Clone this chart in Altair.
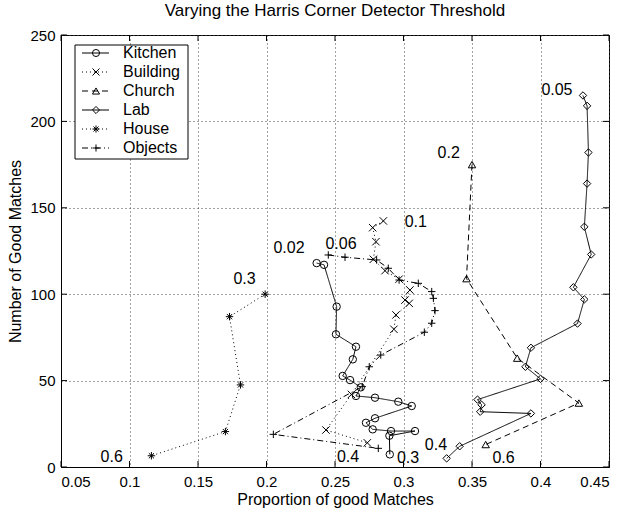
import altair as alt
import pandas as pd

FONT = "Liberation Sans"

series_names = ["Kitchen", "Building", "Church", "Lab", "House", "Objects"]

kitchen_x = [0.2366, 0.242, 0.2512, 0.2507, 0.2653, 0.263, 0.2556, 0.261, 0.2688, 0.2653,
             0.2792, 0.2962, 0.306, 0.2792, 0.2726, 0.2775, 0.2909, 0.3084, 0.2897, 0.290]
kitchen_y = [118, 117, 92.8, 76.8, 69.6, 62.3, 52.7, 50.3, 46.1, 41.1,
             40.1, 37.8, 35.3, 28.2, 25.6, 21.8, 20.8, 20.8, 18.1, 7.3]

building_x = [0.2853, 0.2775, 0.2799, 0.278, 0.2865, 0.2968, 0.3047, 0.3011, 0.3042, 0.2945,
              0.293, 0.262, 0.2434, 0.2736]
building_y = [142.4, 138.5, 130.4, 120.2, 113.6, 108.7, 102.4, 96.6, 94.7, 88,
              79.7, 42, 21.4, 14]

church_x = [0.350, 0.346, 0.383, 0.428, 0.360]
church_y = [175, 109, 63, 37, 13]

lab_x = [0.431, 0.434, 0.435, 0.434, 0.432, 0.437, 0.424, 0.432, 0.427, 0.393,
         0.389, 0.400, 0.354, 0.357, 0.356, 0.393, 0.341, 0.3315]
lab_y = [215, 209, 182, 164, 139, 123, 104, 97, 83, 69,
         58, 51, 39, 36, 32, 31, 12, 5]

house_x = [0.199, 0.173, 0.181, 0.170, 0.116]
house_y = [100, 87, 47.5, 20.5, 6.5]

objects_x = [0.2451, 0.2573, 0.2804, 0.2889, 0.2968, 0.3108, 0.3206, 0.3218, 0.323, 0.3206,
             0.3152, 0.2834, 0.275, 0.2699, 0.205, 0.2816]
objects_y = [122.7, 121.4, 119.8, 115, 108.2, 106.3, 101.5, 97.6, 90.5, 83.2,
             78, 64.8, 58, 46.5, 18.9, 10.8]

# threshold annotations
note_text = ["0.05", "0.2", "0.1", "0.02", "0.06", "0.3", "0.6", "0.4", "0.3", "0.4", "0.6"]
note_x = [0.412, 0.333, 0.309, 0.2164, 0.2544, 0.184, 0.087, 0.2595, 0.3033, 0.3237, 0.373]
note_y = [218, 182, 141.5, 127, 129, 109, 6, 5.8, 5, 13, 5]

x_ticks = [0.05, 0.1, 0.15, 0.2, 0.25, 0.3, 0.35, 0.4, 0.45]
y_ticks = [0, 50, 100, 150, 200, 250]

series_xy = {
    "Kitchen": (kitchen_x, kitchen_y),
    "Building": (building_x, building_y),
    "Church": (church_x, church_y),
    "Lab": (lab_x, lab_y),
    "House": (house_x, house_y),
    "Objects": (objects_x, objects_y),
}

rows = []
for name, (xs, ys) in series_xy.items():
    for i, (xv, yv) in enumerate(zip(xs, ys)):
        rows.append({"series": name, "x": xv, "y": yv, "idx": i})
df = pd.DataFrame(rows)

notes = pd.DataFrame({"x": note_x, "y": note_y, "label": note_text})
xt = pd.DataFrame({"x": x_ticks})
yt = pd.DataFrame({"y": y_ticks})
legend_df = pd.DataFrame({"series": series_names, "row": list(range(len(series_names)))})

W, H = 548, 432

shape_scale = alt.Scale(
    domain=series_names,
    range=[
        "circle",
        "M-1,-1L1,1M-1,1L1,-1",
        "triangle-up",
        "diamond",
        "M-1,0L1,0M0,-1L0,1M-0.7,-0.7L0.7,0.7M-0.7,0.7L0.7,-0.7",
        "M-1,0L1,0M0,-1L0,1",
    ],
)
dash_scale = alt.Scale(
    domain=series_names,
    range=[[1, 0], [1, 3], [6, 4], [1, 0], [1, 3], [6, 3, 1, 3]],
)

x_enc = alt.X(
    "x:Q",
    scale=alt.Scale(domain=[0.05, 0.45], nice=False, zero=False),
    axis=alt.Axis(values=x_ticks, format="~g", title="Proportion of good Matches",
                  ticks=False, labelPadding=7, titlePadding=2),
)
y_enc = alt.Y(
    "y:Q",
    scale=alt.Scale(domain=[0, 250], nice=False),
    axis=alt.Axis(values=y_ticks, title="Number of Good Matches",
                  ticks=False, labelPadding=6, titlePadding=6),
)

lines = alt.Chart(df).mark_line(color="black", strokeWidth=1).encode(
    x=x_enc,
    y=y_enc,
    detail="series:N",
    strokeDash=alt.StrokeDash("series:N", scale=dash_scale, legend=None),
    order="idx:Q",
)

points = alt.Chart(df).mark_point(filled=False, color="black", strokeWidth=1, size=55, opacity=1).encode(
    x="x:Q",
    y="y:Q",
    shape=alt.Shape("series:N", scale=shape_scale, legend=None),
)

labels = alt.Chart(notes).mark_text(font=FONT, fontSize=16, color="black").encode(
    x="x:Q", y="y:Q", text="label:N"
)

# inward ticks on all four sides of the box
tick_len = 6
xb = alt.Chart(xt).mark_rule(color="black").encode(x="x:Q", y=alt.value(H), y2=alt.value(H - tick_len))
xtop = alt.Chart(xt).mark_rule(color="black").encode(x="x:Q", y=alt.value(0), y2=alt.value(tick_len))
yl = alt.Chart(yt).mark_rule(color="black").encode(y="y:Q", x=alt.value(0), x2=alt.value(tick_len))
yr = alt.Chart(yt).mark_rule(color="black").encode(y="y:Q", x=alt.value(W), x2=alt.value(W - tick_len))

main = alt.layer(lines, points, labels, xb, xtop, yl, yr)

# legend box in the upper-left corner
row_y = alt.Y("row:Q", scale=alt.Scale(domain=[0, 5], range=[18, 113], nice=False, zero=False), axis=None)
box = alt.Chart(pd.DataFrame({"k": [0]})).mark_rect(fill="white", stroke="black", strokeWidth=1).encode(
    x=alt.value(14), x2=alt.value(127), y=alt.value(10), y2=alt.value(124)
)
leg_lines = alt.Chart(legend_df).mark_rule(color="black", strokeWidth=1).encode(
    y=row_y, x=alt.value(21), x2=alt.value(48),
    strokeDash=alt.StrokeDash("series:N", scale=dash_scale, legend=None),
)
leg_pts = alt.Chart(legend_df).mark_point(filled=False, color="black", strokeWidth=1, size=50, opacity=1).encode(
    y=row_y, x=alt.value(35),
    shape=alt.Shape("series:N", scale=shape_scale, legend=None),
)
leg_txt = alt.Chart(legend_df).mark_text(font=FONT, fontSize=16, align="left", baseline="middle", color="black").encode(
    y=row_y, x=alt.value(62), text="series:N"
)
legend = alt.layer(box, leg_lines, leg_pts, leg_txt)

chart = alt.layer(main, legend).resolve_scale(y="independent").properties(
    width=W,
    height=H,
    title=alt.TitleParams("Varying the Harris Corner Detector Threshold", font=FONT, fontSize=17,
                          fontWeight="normal", anchor="middle", offset=8, color="black"),
    autosize=alt.AutoSizeParams(type="none"),
    padding={"left": 61, "top": 35, "right": 18, "bottom": 44},
    background="white",
).configure_view(
    stroke="black", strokeWidth=1
).configure_axis(
    labelFont=FONT, labelFontSize=15, labelColor="black",
    titleFont=FONT, titleFontSize=16, titleFontWeight="normal", titleColor="black",
    domainColor="black", grid=True, gridColor="#444444", gridDash=[1, 3], gridWidth=1, gridOpacity=1,
)

chart.save("out.html", embed_options={"renderer": "svg", "actions": False})
